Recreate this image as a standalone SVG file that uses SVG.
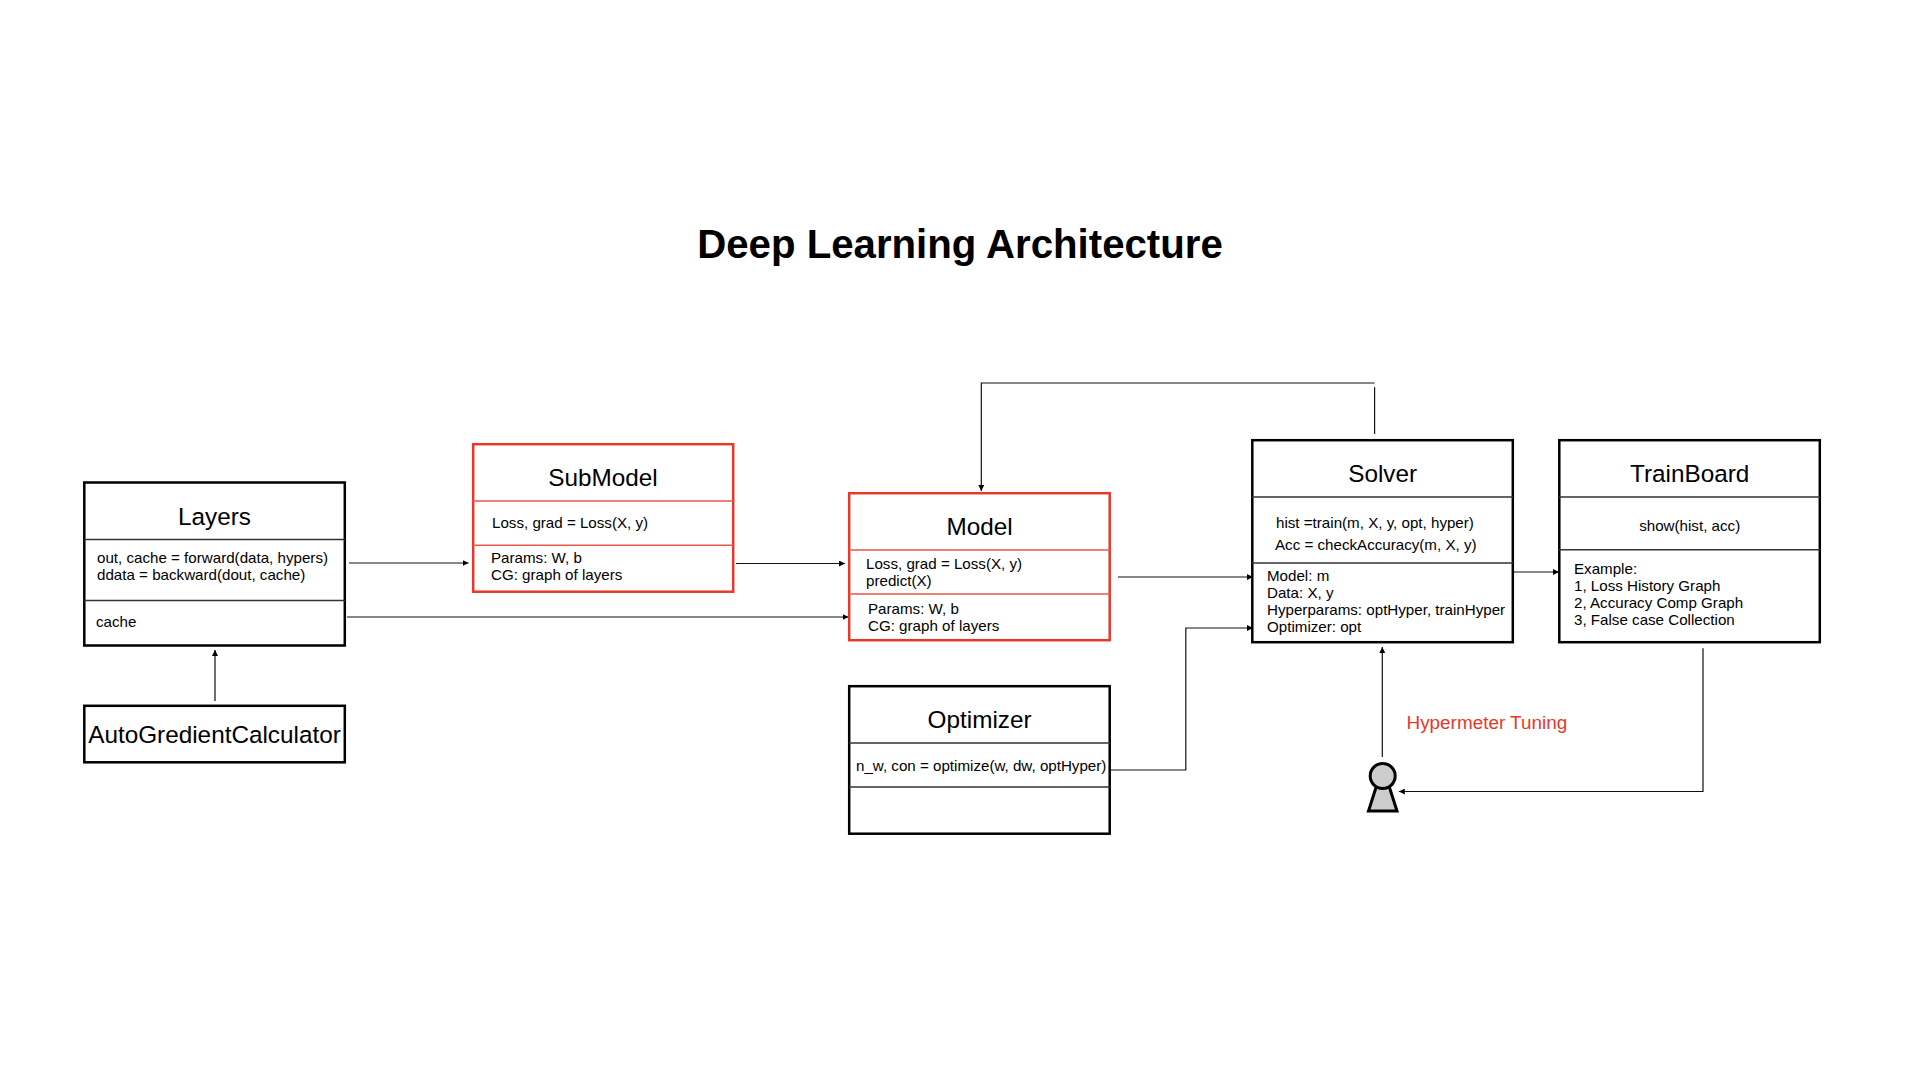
<svg xmlns="http://www.w3.org/2000/svg" width="1920" height="1080" viewBox="0 0 1920 1080">
<style>
text{font-family:"Liberation Sans",Arial,sans-serif;fill:#000}
.title{font-size:40.2px;font-weight:bold;text-anchor:middle}
.name{font-size:24.3px;text-anchor:middle}
.t{font-size:15.15px}
.c{text-anchor:middle}
.box{fill:#fff;stroke:#000;stroke-width:2.5}
.rbox{fill:#fff;stroke:#e5392b;stroke-width:2.5}
.div{stroke:#333;stroke-width:1.4}
.rdiv{stroke:#e8584c;stroke-width:1.4}
.conn{fill:none;stroke:#111;stroke-width:1.2}
.art{fill:none;stroke:#111;stroke-width:1.2;marker-end:url(#arrow)}
.red{font-size:18.9px;fill:#e5392b}
</style>
<defs>
<marker id="arrow" viewBox="0 0 6 6" refX="6" refY="3" markerWidth="6" markerHeight="6" markerUnits="userSpaceOnUse" orient="auto"><path d="M0 0L6 3L0 6Z" fill="#000"/></marker>
</defs>
<rect width="1920" height="1080" fill="#fff"/>
<text class="title" x="960" y="258">Deep Learning Architecture</text>
<g id="connectors">
<path class="art" d="M349 563H468.5"/>
<path class="art" d="M736 563.5H845"/>
<path class="art" d="M347 617H848.5"/>
<path class="art" d="M215 701V650"/>
<path class="conn" d="M1374.6 434V387.3"/>
<path class="art" d="M1374.6 383H981.3V491"/>
<path class="art" d="M1118 577H1253"/>
<path class="art" d="M1110.4 770H1185.8V628H1253"/>
<path class="art" d="M1382.3 757V647"/>
<path class="art" d="M1513.6 572H1559"/>
<path class="art" d="M1703 648.3V791.5H1398.8"/>
</g>
<g id="layers">
<rect class="box" x="84.3" y="482.5" width="260.5" height="163"/>
<path class="div" d="M84 539.5H345M84 600.5H345"/>
<text class="name" x="214.5" y="525">Layers</text>
<text class="t" x="97" y="562.7">out, cache = forward(data, hypers)</text>
<text class="t" x="97" y="580">ddata = backward(dout, cache)</text>
<text class="t" x="96" y="626.7">cache</text>
</g>
<g id="autogredientcalculator">
<rect class="box" x="84.3" y="705.8" width="260.5" height="56.5"/>
<text class="name" x="214.5" y="743">AutoGredientCalculator</text>
</g>
<g id="submodel">
<rect class="rbox" x="473.2" y="444.2" width="260" height="147.5"/>
<path class="rdiv" d="M473 501H733M473 545.3H733"/>
<text class="name" x="603" y="486">SubModel</text>
<text class="t" x="492" y="527.7">Loss, grad = Loss(X, y)</text>
<text class="t" x="491" y="562.7">Params: W, b</text>
<text class="t" x="491" y="580">CG: graph of layers</text>
</g>
<g id="model">
<rect class="rbox" x="849.2" y="493.2" width="260.5" height="147"/>
<path class="rdiv" d="M849 550H1110M849 594H1110"/>
<text class="name" x="979.6" y="535">Model</text>
<text class="t" x="866" y="569">Loss, grad = Loss(X, y)</text>
<text class="t" x="866" y="586">predict(X)</text>
<text class="t" x="868" y="613.7">Params: W, b</text>
<text class="t" x="868" y="631">CG: graph of layers</text>
</g>
<g id="optimizer">
<rect class="box" x="849.2" y="686.2" width="260.5" height="147.5"/>
<path class="div" d="M849 743H1110M849 787H1110"/>
<text class="name" x="979.6" y="727.7">Optimizer</text>
<text class="t" x="856" y="770.7">n_w, con = optimize(w, dw, optHyper)</text>
</g>
<g id="solver">
<rect class="box" x="1252.3" y="440.2" width="260.5" height="202"/>
<path class="div" d="M1252 497H1513M1252 563H1513"/>
<text class="name" x="1382.7" y="481.7">Solver</text>
<text class="t" x="1276" y="528">hist =train(m, X, y, opt, hyper)</text>
<text class="t" x="1275" y="550">Acc = checkAccuracy(m, X, y)</text>
<text class="t" x="1267" y="580.7">Model: m</text>
<text class="t" x="1267" y="597.7">Data: X, y</text>
<text class="t" x="1267" y="614.7">Hyperparams: optHyper, trainHyper</text>
<text class="t" x="1267" y="631.7">Optimizer: opt</text>
</g>
<g id="trainboard">
<rect class="box" x="1559.3" y="440.2" width="260.5" height="202"/>
<path class="div" d="M1559 497H1820M1559 549.7H1820"/>
<text class="name" x="1689.7" y="481.7">TrainBoard</text>
<text class="t c" x="1689.7" y="530.7">show(hist, acc)</text>
<text class="t" x="1574" y="574">Example:</text>
<text class="t" x="1574" y="591">1, Loss History Graph</text>
<text class="t" x="1574" y="608">2, Accuracy Comp Graph</text>
<text class="t" x="1574" y="625">3, False case Collection</text>
</g>
<g id="person">
<path d="M1376 787.5H1389.5L1397 811H1368.5Z" fill="#ccc" stroke="#000" stroke-width="3"/>
<circle cx="1382.7" cy="776" r="12.5" fill="#ccc" stroke="#000" stroke-width="3"/>
</g>
<text class="red" x="1406.5" y="729">Hypermeter Tuning</text>
</svg>
